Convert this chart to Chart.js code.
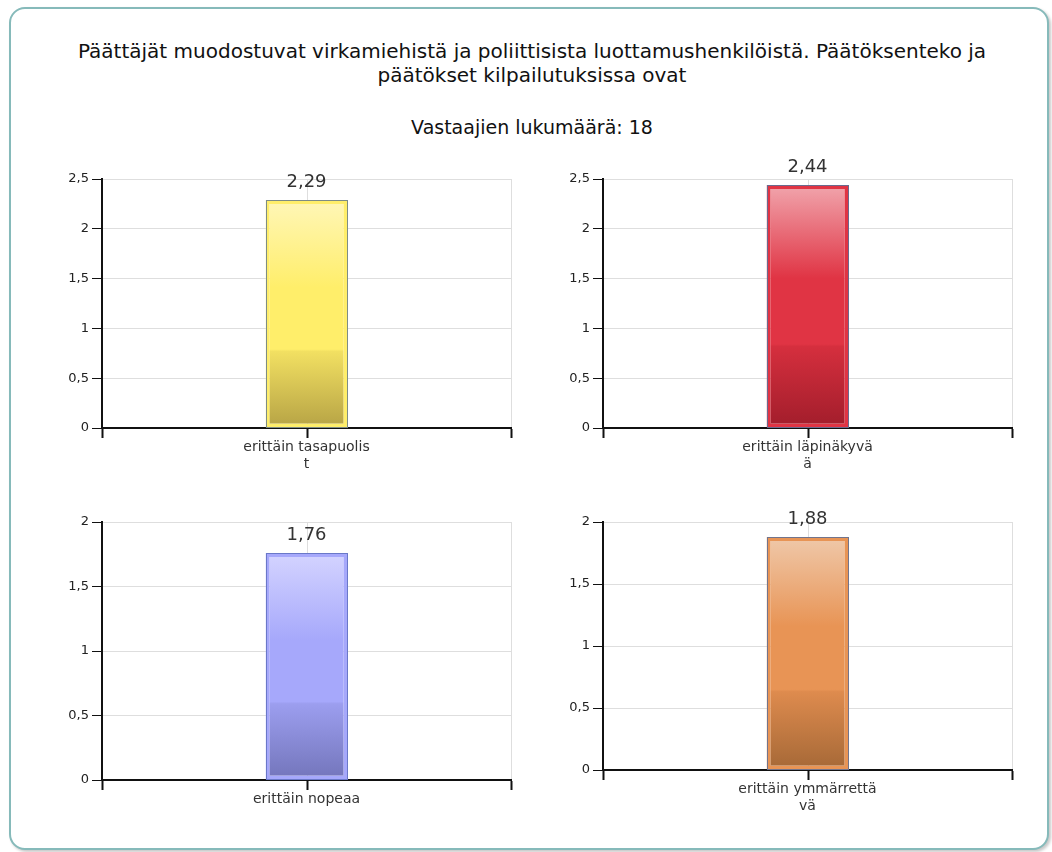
<!DOCTYPE html>
<html>
<head>
<meta charset="utf-8">
<script src="https://cdn.jsdelivr.net/npm/chart.js@4.4.1/dist/chart.umd.min.js"></script>
<style>
  html, body { margin: 0; padding: 0; background: #fff; }
  body { width: 1052px; height: 852px; position: relative; overflow: hidden; }
  #frame {
    position: absolute; left: 9px; top: 7px; width: 1036px; height: 839px;
    border: 2px solid #86baba; border-radius: 16px;
    box-shadow: 2px 2px 3px rgba(0,0,0,0.22);
    background: #fff;
  }
  .title {
    position: absolute; left: 0; width: 1064px; text-align: center;
    font-family: "DejaVu Sans", Verdana, sans-serif;
    color: #111;
  }
  #t1 { top: 39px; font-size: 20px; line-height: 24px; }
  #t2 { top: 115px; font-size: 19px; line-height: 24px; }
  .box { position: absolute; }
</style>
</head>
<body>
<div id="frame"></div>
<div class="title" id="t1">Päättäjät muodostuvat virkamiehistä ja poliittisista luottamushenkilöistä. Päätöksenteko ja<br>päätökset kilpailutuksissa ovat</div>
<div class="title" id="t2">Vastaajien lukumäärä: 18</div>

<div class="box" style="left:40px;top:140px;width:480px;height:333px;"><canvas id="c0"></canvas></div>
<div class="box" style="left:541px;top:140px;width:480px;height:333px;"><canvas id="c1"></canvas></div>
<div class="box" style="left:40px;top:483px;width:480px;height:342px;"><canvas id="c2"></canvas></div>
<div class="box" style="left:541px;top:483px;width:480px;height:332px;"><canvas id="c3"></canvas></div>

<script>
// ---- data ----
const categories = [
  ["erittäin tasapuolis", "t"],
  ["erittäin läpinäkyvä", "ä"],
  ["erittäin nopeaa"],
  ["erittäin ymmärrettä", "vä"]
];
const values = [2.29, 2.44, 1.76, 1.88];
const axisMax = [2.5, 2.5, 2, 2];
const axisStep = [0.5, 0.5, 0.5, 0.5];

// ---- styles ----
const palettes = [
  { top: "#fff6b4", main: "#ffee6a", low: "#f2e062", bottom: "#b9a646", outline: "#7d8c86" },
  { top: "#f0a0a8", main: "#e03444", low: "#d52f3e", bottom: "#a41e2c", outline: "#6a6a8e" },
  { top: "#d2d2ff", main: "#a6a8fb", low: "#9c9eef", bottom: "#7577bd", outline: "#6a78c8" },
  { top: "#efc6a6", main: "#e89455", low: "#de8b4e", bottom: "#a86a38", outline: "#72748c" }
];
const FONT = "'DejaVu Sans', Verdana, sans-serif";
const fmt = v => String(v).replace('.', ',');

const centerLinePlugin = {
  id: 'centerLine',
  beforeDatasetsDraw(chart) {
    const { ctx, chartArea, scales } = chart;
    const x = Math.round(scales.x.getPixelForTick(0)) + 0.5;
    ctx.save();
    ctx.strokeStyle = '#dedede';
    ctx.lineWidth = 1;
    ctx.beginPath(); ctx.moveTo(x, chartArea.top); ctx.lineTo(x, chartArea.bottom); ctx.stroke();
    ctx.strokeStyle = '#111';
    ctx.lineWidth = 2;
    ctx.beginPath(); ctx.moveTo(x, chartArea.bottom); ctx.lineTo(x, chartArea.bottom + 10); ctx.stroke();
    ctx.restore();
  }
};

const barDecorPlugin = {
  id: 'barDecor',
  afterDatasetsDraw(chart) {
    const { ctx } = chart;
    const pal = chart.options.plugins.barDecor;
    chart.getDatasetMeta(0).data.forEach((el, i) => {
      const p = el.getProps(['x', 'y', 'base', 'width'], true);
      const left = p.x - p.width / 2;
      ctx.save();
      ctx.strokeStyle = pal.outline;
      ctx.lineWidth = 1;
      ctx.strokeRect(Math.round(left) + 0.5, Math.round(p.y) + 0.5, Math.round(p.width) - 1, Math.round(p.base - p.y) - 1);
      ctx.fillStyle = '#333';
      ctx.font = "18px " + FONT;
      ctx.textAlign = 'center';
      ctx.textBaseline = 'alphabetic';
      ctx.fillText(fmt(chart.data.datasets[0].data[i]), p.x, p.y - 13);
      ctx.restore();
    });
  }
};

function makeChart(i) {
  const pal = palettes[i];
  return new Chart(document.getElementById('c' + i), {
    type: 'bar',
    data: {
      labels: [categories[i]],
      datasets: [{
        data: [values[i]],
        borderWidth: 4,
        borderColor: pal.main,
        borderSkipped: false,
        categoryPercentage: 1,
        barPercentage: 0.2,
        backgroundColor(ctx) {
          const chart = ctx.chart;
          if (!chart.chartArea || ctx.raw === undefined) return pal.main;
          const ys = chart.scales.y;
          const top = ys.getPixelForValue(ctx.raw) + 4;
          const base = ys.getPixelForValue(0) - 4;
          const g = chart.ctx.createLinearGradient(0, top, 0, base);
          g.addColorStop(0, pal.top);
          g.addColorStop(0.38, pal.main);
          g.addColorStop(0.66, pal.main);
          g.addColorStop(0.67, pal.low);
          g.addColorStop(1, pal.bottom);
          return g;
        }
      }]
    },
    options: {
      responsive: true,
      maintainAspectRatio: false,
      animation: false,
      layout: { padding: { top: 39, right: 9, left: 0, bottom: 0 } },
      plugins: {
        legend: { display: false },
        tooltip: { enabled: false },
        title: { display: false },
        barDecor: pal
      },
      scales: {
        x: {
          offset: true,
          grid: { offset: true, color: '#dedede', tickColor: '#111', tickLength: 10, lineWidth: 1, tickWidth: 2 },
          border: { color: '#111', width: 2 },
          ticks: { color: '#333', font: { family: FONT, size: 14 }, padding: 1, maxRotation: 0, autoSkip: false },
          afterFit(scale) { scale.height = 45; }
        },
        y: {
          min: 0,
          max: axisMax[i],
          grid: { color: '#dedede', tickColor: '#111', tickLength: 10, lineWidth: 1, tickWidth: 1 },
          border: { color: '#111', width: 2 },
          ticks: { stepSize: axisStep[i], color: '#222', font: { family: FONT, size: 13 }, padding: 3, callback: v => fmt(v) },
          afterFit(scale) { scale.width = 62; }
        }
      }
    },
    plugins: [centerLinePlugin, barDecorPlugin]
  });
}
for (let i = 0; i < 4; i++) makeChart(i);
</script>
</body>
</html>
